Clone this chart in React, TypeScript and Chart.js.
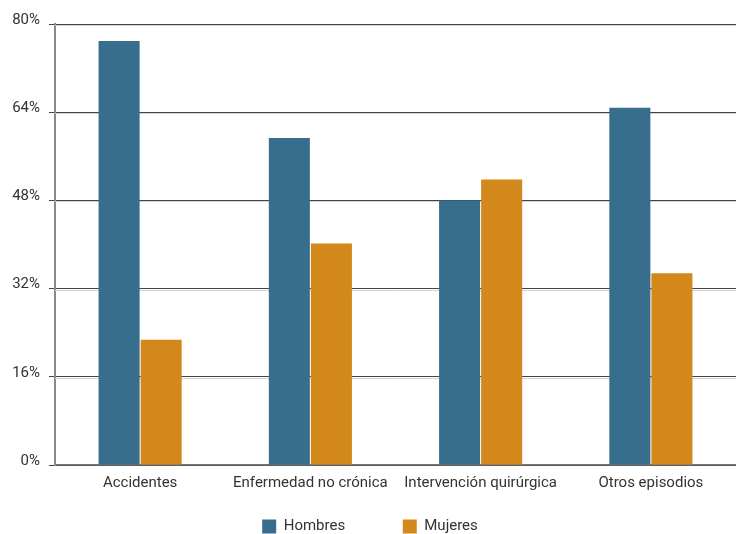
import React, { useEffect, useRef } from "react";
import { Chart, registerables } from "chart.js";

Chart.register(...registerables);

const categories = ["Accidentes", "Enfermedad no crónica", "Intervención quirúrgica", "Otros episodios"];
const hombres = [76.9, 59.3, 48.0, 64.8];
const mujeres = [22.7, 40.2, 51.8, 34.8];
const seriesNames = ["Hombres", "Mujeres"];
const yTicks = [0, 16, 32, 48, 64, 80];

const BLUE = "#376e8e";
const ORANGE = "#d3881b";
const TEXT = "#333333";
const FONT = "Roboto, 'Open Sans', sans-serif";

// soft light line just under each horizontal grid line
const gridShadow = {
  id: "gridShadow",
  beforeDatasetsDraw(chart: any) {
    const { ctx, chartArea, scales } = chart;
    const y = scales.y;
    ctx.save();
    ctx.strokeStyle = "#d4d4d4";
    ctx.lineWidth = 1;
    yTicks.forEach((v) => {
      if (v === 0) return;
      const py = Math.round(y.getPixelForValue(v)) + 1.5;
      ctx.beginPath();
      ctx.moveTo(chartArea.left, py);
      ctx.lineTo(chartArea.right, py);
      ctx.stroke();
    });
    ctx.restore();
  },
};

export default function App() {
  const ref = useRef<HTMLCanvasElement | null>(null);

  useEffect(() => {
    if (!ref.current) return;
    const barShape = { categoryPercentage: 0.494, barPercentage: 0.976 };
    const chart = new Chart(ref.current, {
      type: "bar",
      data: {
        labels: categories,
        datasets: [
          { label: seriesNames[0], data: hombres, backgroundColor: BLUE, ...barShape },
          { label: seriesNames[1], data: mujeres, backgroundColor: ORANGE, ...barShape },
        ],
      },
      options: {
        animation: false,
        responsive: false,
        maintainAspectRatio: false,
        layout: { padding: { top: 24, right: 0, left: 4, bottom: -10 } },
        scales: {
          x: {
            grid: { display: false, drawTicks: false },
            border: { display: true, color: "#777", width: 1.5 },
            ticks: { color: TEXT, font: { family: FONT, size: 15 }, padding: 9 },
            afterFit: (scale: any) => {
              scale.height += 10;
            },
          },
          y: {
            min: 0,
            max: 80,
            afterBuildTicks: (scale: any) => {
              scale.ticks = yTicks.map((v) => ({ value: v }));
            },
            afterFit: (scale: any) => {
              scale.width = 51;
            },
            grid: { color: "#444", lineWidth: 1, tickLength: 6, drawOnChartArea: true },
            border: { display: true, color: "#888", width: 2 },
            ticks: {
              color: TEXT,
              font: { family: FONT, size: 15 },
              padding: 9,
              labelOffset: -4,
              callback: (v: any) => v + "%",
            },
          },
        },
        plugins: {
          legend: {
            position: "bottom",
            labels: {
              color: TEXT,
              font: { family: FONT, size: 15 },
              boxWidth: 14,
              boxHeight: 14,
              padding: 8,
              generateLabels: (c: any) =>
                Chart.defaults.plugins.legend.labels.generateLabels(c).map((item: any, i: number) => ({
                  ...item,
                  text: i === 0 ? item.text + "\u2003\u2003\u2003 " : item.text,
                })),
            },
          },
          tooltip: { enabled: false },
        },
      },
      plugins: [gridShadow],
    });
    return () => chart.destroy();
  }, []);

  return (
    <div style={{ position: "absolute", left: 0, top: 0, width: 736, height: 534, background: "#fff" }}>
      <canvas ref={ref} width={736} height={534} />
    </div>
  );
}
